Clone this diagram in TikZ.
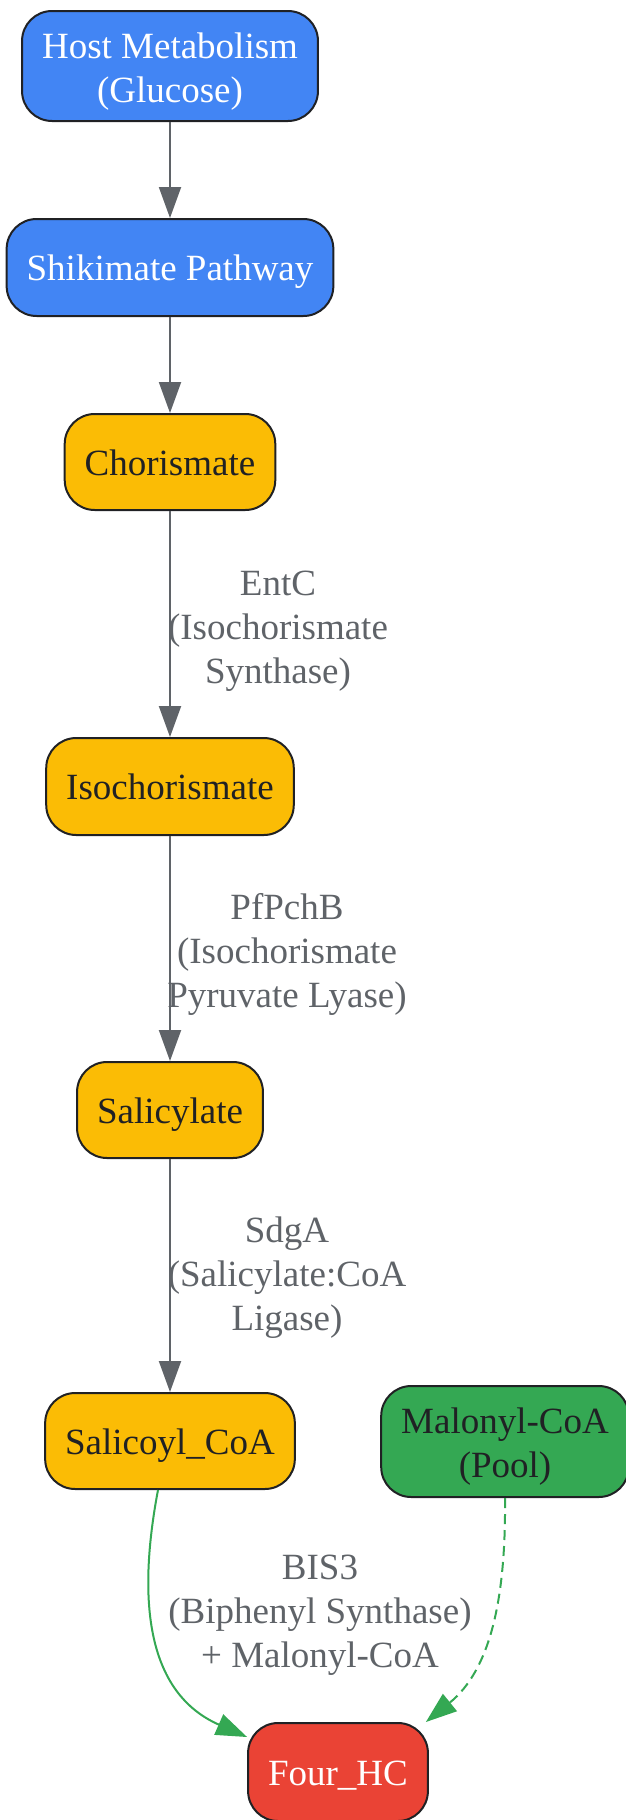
\documentclass[tikz,border=0pt]{standalone}
\usepackage{fontspec}
\setmainfont{Liberation Serif}
\usetikzlibrary{arrows.meta}
\definecolor{hostblue}{HTML}{4285F4}
\definecolor{pathyellow}{HTML}{FBBC05}
\definecolor{poolgreen}{HTML}{34A853}
\definecolor{prodred}{HTML}{EA4335}
\definecolor{edgegray}{HTML}{5F6368}
\definecolor{inkdark}{HTML}{202124}
\newcommand{\toplift}{\rule{0pt}{36pt}}
\tikzset{
  stage/.style={draw=inkdark,line width=2pt,rounded corners=30pt,inner xsep=20pt,inner ysep=0pt,
    minimum height=96pt,align=center,font=\fontsize{37}{44}\selectfont},
  oneline/.style={text height=34pt,text depth=8pt},
  hoststage/.style={stage,fill=hostblue,text=white},
  midstage/.style={stage,oneline,fill=pathyellow,text=inkdark},
  poolstage/.style={stage,fill=poolgreen,text=inkdark},
  endstage/.style={stage,oneline,fill=prodred,text=white},
  enzyme/.style={align=center,text=edgegray,inner sep=0pt,font=\fontsize{37}{44}\selectfont},
  flow/.style={edgegray,line width=2pt,-{Triangle[length=31pt,width=22pt]}},
  greenflow/.style={poolgreen,line width=2pt,-{Triangle[length=31pt,width=22pt]}}
}

\begin{document}
\begin{tikzpicture}[x=1pt,y=-1pt]
              \useasboundingbox (0,0) rectangle (626,1820);
              \node[hoststage,minimum height=110pt](host)at(170,66){\toplift Host Metabolism\\(Glucose)};
              \node[hoststage,oneline,minimum height=97pt](shik)at(170,267.5){Shikimate Pathway};
              \node[midstage](chor)at(170,462){Chorismate};
              \node[midstage,minimum height=97pt](iso)at(170,786.5){Isochorismate};
              \node[midstage](sal)at(170,1110){Salicylate};
              \node[midstage](salc)at(170,1441){Salicoyl\_CoA};
              \node[poolstage,minimum height=111pt](mal)at(505,1441.5){\toplift Malonyl-CoA\\(Pool)};
              \node[endstage,minimum height=98pt](four)at(338,1772){Four\_HC};
              \draw[flow](host)--(shik);
              \draw[flow](shik)--(chor);
              \draw[flow](chor)--(iso);
              \draw[flow](iso)--(sal);
              \draw[flow](sal)--(salc);
              \node[enzyme](entc)at(278,631){EntC\\(Isochorismate\\Synthase)};
              \node[enzyme](pchb)at(287,954){PfPchB\\(Isochorismate\\Pyruvate Lyase)};
              \node[enzyme](sdga)at(287,1278){SdgA\\(Salicylate:CoA\\Ligase)};
              \node[enzyme](bis3)at(320,1615){BIS3\\(Biphenyl Synthase)\\+ Malonyl-CoA};
              \draw[greenflow]([xshift=-12pt]salc.south) .. controls (140,1585) and (140,1690) .. ([yshift=-15pt]four.north west);
              \draw[greenflow,dash pattern=on 10pt off 6pt](mal.south) .. controls (506,1600) and (490,1670) .. ([xshift=-3pt]four.north east);
            \end{tikzpicture}
\end{document}
